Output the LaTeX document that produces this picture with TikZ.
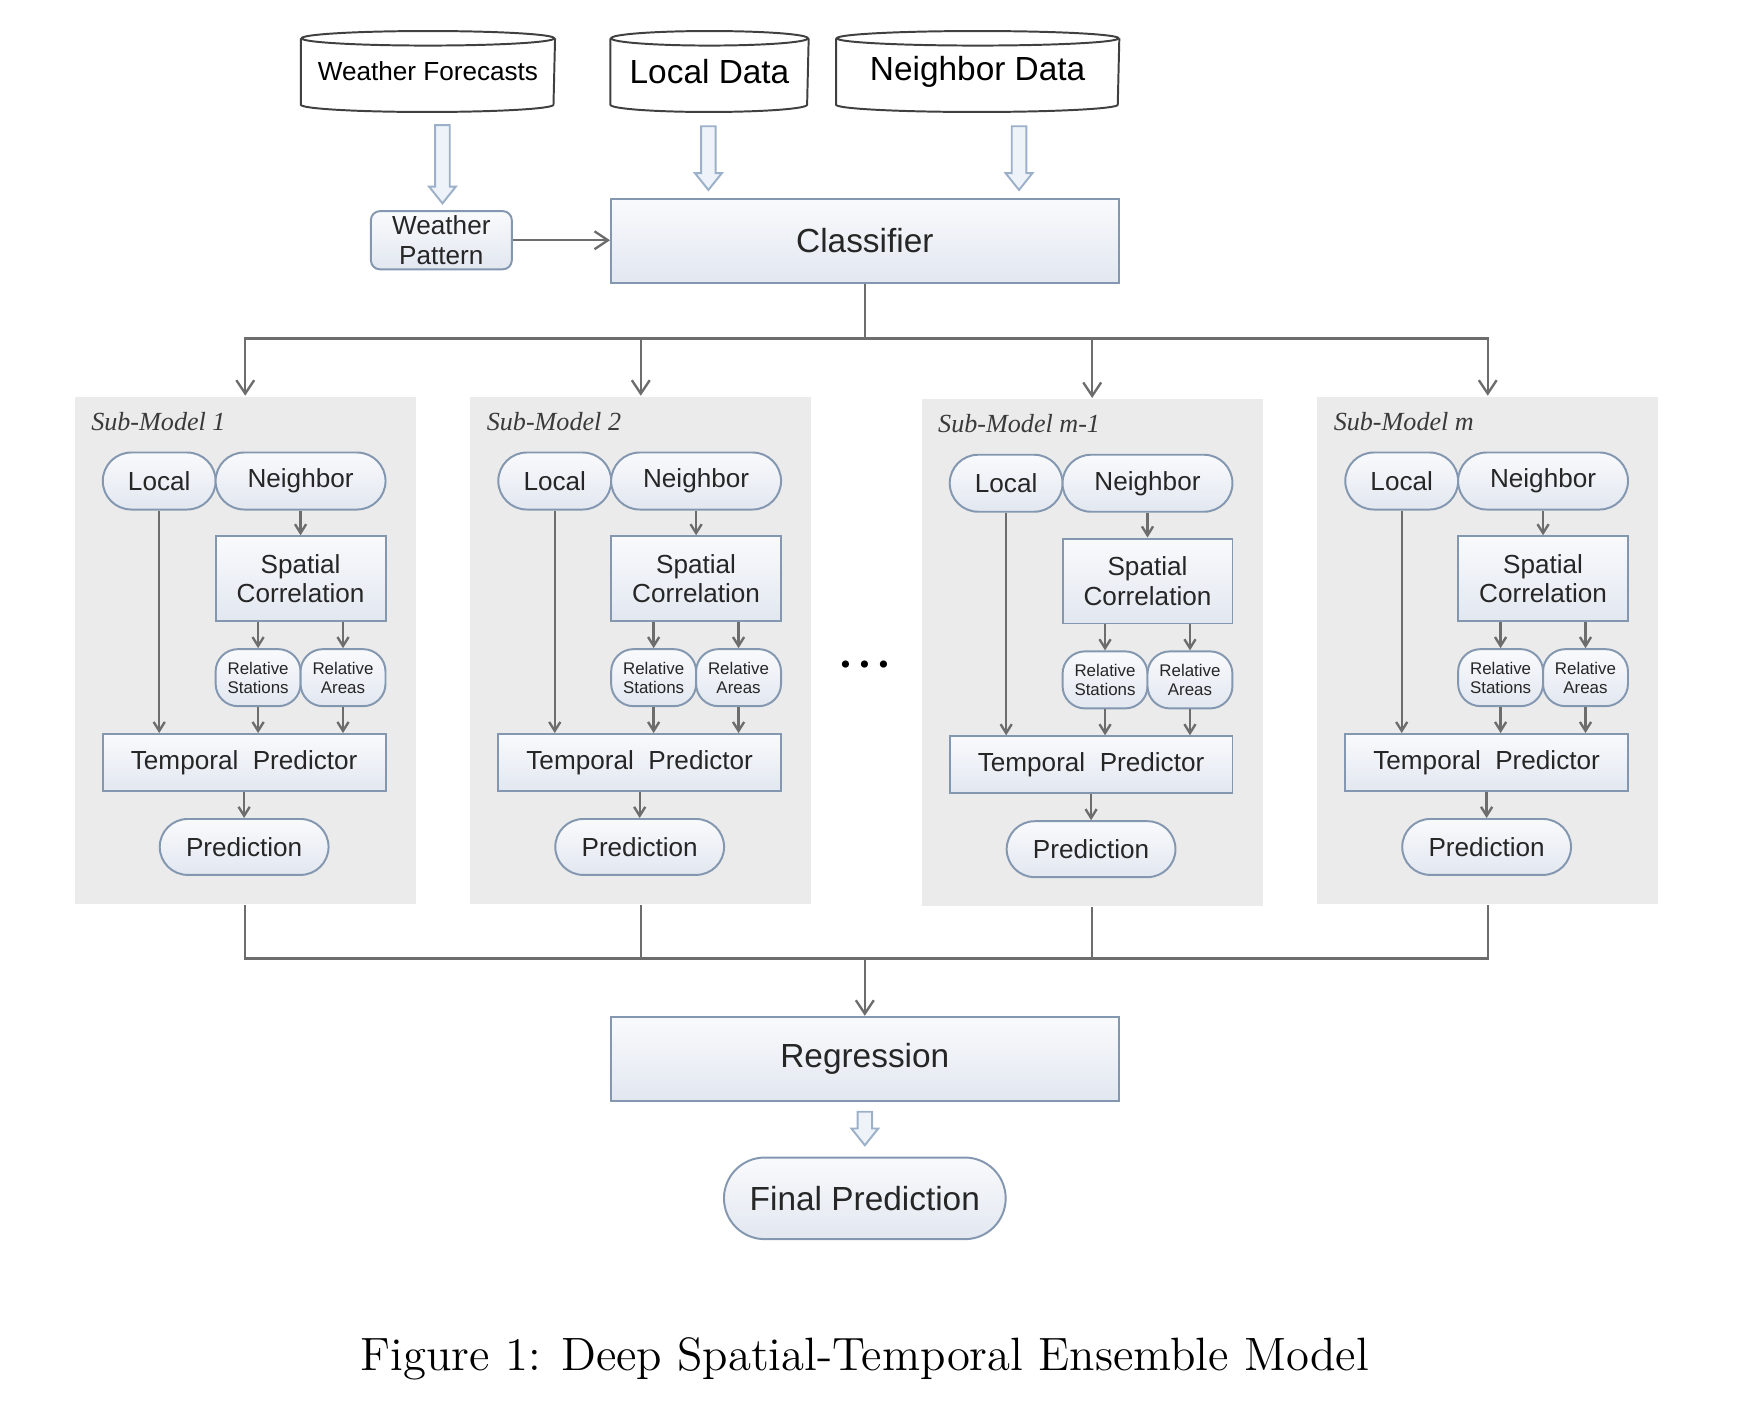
\documentclass[tikz,border=0pt]{standalone}
\usepackage{fontspec}
\newfontfamily\arialfont{Liberation Sans}
\newfontfamily\timesfont{Liberation Serif}
\usetikzlibrary{arrows.meta}
\definecolor{nodeline}{HTML}{8497B0}
\definecolor{nodetop}{HTML}{F9FAFC}
\definecolor{nodebot}{HTML}{E2E7F0}
\definecolor{flowgray}{HTML}{6D6D6D}
\definecolor{panelgray}{HTML}{EBEBEB}
\definecolor{txtgray}{HTML}{262626}
\definecolor{titlegray}{HTML}{3A3A3A}
\definecolor{fatfill}{HTML}{EEF3F9}
\definecolor{fatedge}{HTML}{9DB0CA}
\definecolor{dbedge}{HTML}{404040}
\newcommand\bigtxt{\fontsize{8.5}{10}\selectfont}
\newcommand\midtxt{\fontsize{6.65}{7.5}\selectfont}
\newcommand\tinytxt{\fontsize{4.3}{4.9}\selectfont}
\tikzset{
  box/.style={draw=nodeline, line width=0.5pt, top color=nodetop, bottom color=nodebot,
    inner sep=0pt, text=txtgray, align=center, font=\arialfont\midtxt},
  pill/.style={box, rounded corners=#1},
  panel/.style={fill=panelgray, inner sep=0pt, minimum width=3.05cm, minimum height=4.54cm},
  title/.style={anchor=west, inner sep=0pt, text=titlegray, font=\timesfont\itshape\midtxt},
  dbtext/.style={inner sep=0pt, minimum height=0.58cm, text=black},
  dbline/.style={draw=dbedge, line width=0.5pt},
  flow/.style={draw=flowgray, line width=0.6pt},
  bigarrow/.style={flow, -{Straight Barb[length=1.2mm, width=1.6mm]}},
  smallarrow/.style={flow, -{Straight Barb[length=0.8mm, width=1.0mm]}},
  pics/fat/.style={code={
    \draw[draw=fatedge, fill=fatfill, line width=0.5pt, line join=miter]
      (-6.5,0) -- (-6.5,{#1-15}) -- (-12,{#1-15}) -- (0,#1) -- (12,{#1-15})
      -- (6.5,{#1-15}) -- (6.5,0) -- cycle;}}
}
\begin{document}
\begin{tikzpicture}[x=0.01cm, y=-0.01cm]
\useasboundingbox (0,0) rectangle (1568,1258);

% data sources
\node[dbtext, minimum width=2.26cm, font=\arialfont\midtxt] (wf) at (383,64) {Weather Forecasts};
\node[dbtext, minimum width=1.76cm, font=\arialfont\bigtxt] (ld) at (635,64) {Local Data};
\node[dbtext, minimum width=2.52cm, font=\arialfont\bigtxt] (nd) at (875,64) {Neighbor Data};
\foreach \n/\r in {wf/1.13cm, ld/0.88cm, nd/1.26cm}{
  \draw[dbline] (\n.north west) -- (\n.south west)
    arc[start angle=180, end angle=360, x radius=\r, y radius=0.065cm] -- (\n.north east);
  \draw[dbline] (\n.north) ellipse[x radius=\r, y radius=0.065cm];
}
\pic at (396,112) {fat=70};
\pic at (634,113) {fat=57};
\pic at (912,113) {fat=57};

% classifier
\node[box, minimum width=4.54cm, minimum height=0.75cm, font=\arialfont\bigtxt] (cls) at (774,215.5) {Classifier};
\node[pill=0.08cm, minimum width=1.26cm, minimum height=0.52cm] (wp) at (395,215) {Weather\\Pattern};
\draw[bigarrow] (wp.east) -- (wp.east -| cls.west);
\coordinate (split) at (774,303);
\draw[flow] (cls.south) -- (split);

% sub-models
\foreach \i/\cx/\dy/\lbl in {1/218/0/1, 2/572/0/2, 3/976/2/m-1, 4/1330/0/m}{
\begin{scope}[shift={(\cx,\dy)}]
\node[panel] (sm\i) at (1.5,582) {};
\node[title] (tl\i) at (-137,377) {Sub-Model \lbl};
\node[pill=0.255cm, minimum width=1.01cm, minimum height=0.51cm] (loc\i) at (-75.5,430.5) {Local};
\node[pill=0.255cm, minimum width=1.52cm, minimum height=0.51cm] (nb\i) at (51,430.5) {Neighbor};
\node[box, minimum width=1.52cm, minimum height=0.76cm] (sc\i) at (51,518) {Spatial\\Correlation};
\node[pill=0.2cm, minimum width=0.76cm, minimum height=0.51cm, font=\arialfont\tinytxt] (rs\i) at (13,606.5) {Relative\\Stations};
\node[pill=0.2cm, minimum width=0.76cm, minimum height=0.51cm, font=\arialfont\tinytxt] (ra\i) at (89,606.5) {Relative\\Areas};
\node[box, minimum width=2.53cm, minimum height=0.51cm] (tp\i) at (0.5,682.5) {Temporal\ \ Predictor};
\node[pill=0.25cm, minimum width=1.51cm, minimum height=0.50cm] (pr\i) at (0.5,758) {Prediction};
\draw[smallarrow] (nb\i) -- (sc\i);
\draw[smallarrow] (sc\i.south -| rs\i) -- (rs\i);
\draw[smallarrow] (sc\i.south -| ra\i) -- (ra\i);
\draw[smallarrow] (rs\i) -- (rs\i |- tp\i.north);
\draw[smallarrow] (ra\i) -- (ra\i |- tp\i.north);
\draw[smallarrow] (loc\i) -- (loc\i |- tp\i.north);
\draw[smallarrow] (tp\i) -- (pr\i);
\end{scope}
}
\foreach \i in {1,...,4} \draw[bigarrow] (split) -| (sm\i.north);
\node[font=\fontsize{16}{16}\selectfont] (dots) at (774,596) {${\cdot}{\cdot}{\cdot}$};

% ensemble
\coordinate (merge) at (774,858);
\foreach \i in {1,...,4} \draw[flow] (sm\i.south) |- (merge);
\node[box, minimum width=4.54cm, minimum height=0.75cm, font=\arialfont\bigtxt] (reg) at (774,947.5) {Regression};
\draw[bigarrow] (merge) -- (reg);
\pic at (774,995) {fat=30};
\node[pill=0.365cm, minimum width=2.52cm, minimum height=0.73cm, font=\arialfont\bigtxt] (fin) at (774,1072.5) {Final Prediction};

\node[font=\fontsize{11.9}{14}\selectfont] (cap) at (774,1216) {Figure 1: Deep Spatial-Temporal Ensemble Model};
\end{tikzpicture}
\end{document}
